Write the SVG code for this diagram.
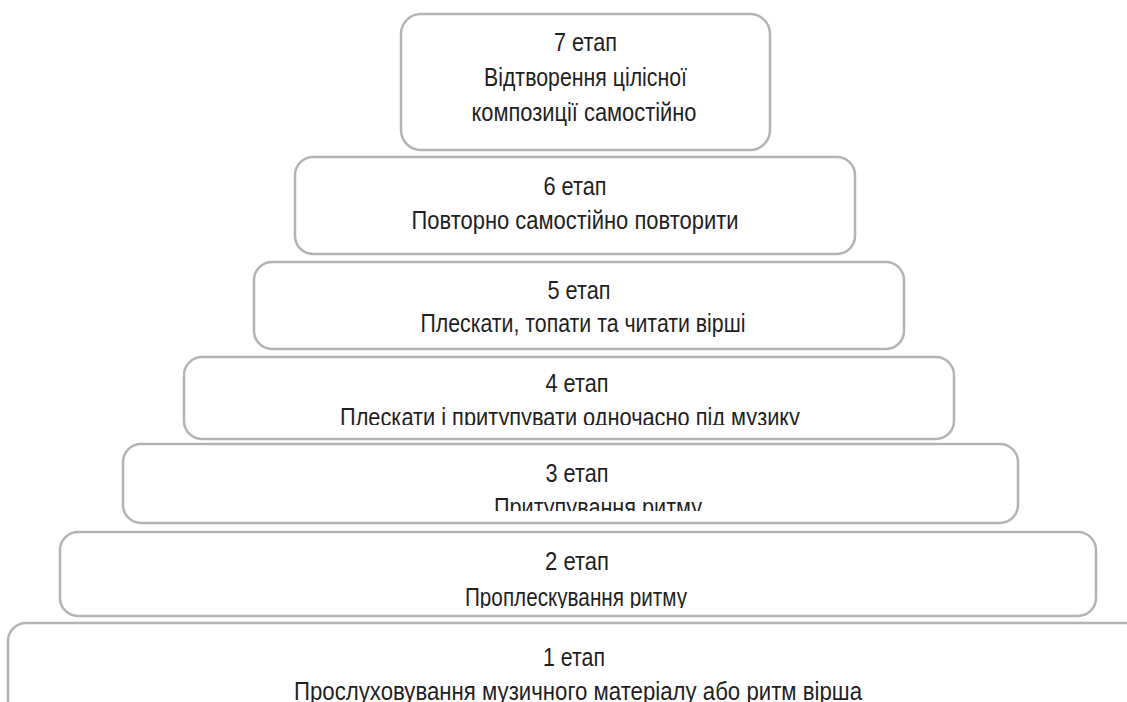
<svg xmlns="http://www.w3.org/2000/svg" width="1127" height="702" viewBox="0 0 1127 702">
  <style>
    .box { fill: #ffffff; stroke: #b4b4b4; stroke-width: 2.5; }
    .t { font-family: "Liberation Sans Narrow", "Liberation Sans", Arial, sans-serif; font-size: 25px; fill: #1f1f1f; text-anchor: middle; }
  </style>
  <defs>
    <clipPath id="c4"><rect x="184" y="357" width="770" height="68"/></clipPath>
    <clipPath id="c3"><rect x="123" y="444" width="895" height="67"/></clipPath>
    <clipPath id="c2"><rect x="60" y="532" width="1036" height="76"/></clipPath>
  </defs>
  <rect width="1127" height="702" fill="#ffffff"/>
  <g id="connectors"/>
  <g id="stage7">
    <rect class="box" x="401" y="14" width="369" height="136" rx="20"/>
    <text class="t" x="585.5" y="51" textLength="63" lengthAdjust="spacingAndGlyphs">7 етап</text>
    <text class="t" x="585.5" y="86" textLength="203" lengthAdjust="spacingAndGlyphs">Відтворення цілісної</text>
    <text class="t" x="584" y="121" textLength="225" lengthAdjust="spacingAndGlyphs">композиції самостійно</text>
  </g>
  <g id="stage6">
    <rect class="box" x="295" y="157" width="560" height="97" rx="18"/>
    <text class="t" x="575" y="195" textLength="63" lengthAdjust="spacingAndGlyphs">6 етап</text>
    <text class="t" x="575" y="229" textLength="327" lengthAdjust="spacingAndGlyphs">Повторно самостійно повторити</text>
  </g>
  <g id="stage5">
    <rect class="box" x="254" y="262" width="650" height="87" rx="18"/>
    <text class="t" x="579" y="299" textLength="63" lengthAdjust="spacingAndGlyphs">5 етап</text>
    <text class="t" x="583" y="332" textLength="325" lengthAdjust="spacingAndGlyphs">Плескати, топати та читати вірші</text>
  </g>
  <g id="stage4">
    <rect class="box" x="184" y="357" width="770" height="82" rx="18"/>
    <g clip-path="url(#c4)">
      <text class="t" x="577" y="392" textLength="63" lengthAdjust="spacingAndGlyphs">4 етап</text>
      <text class="t" x="570" y="426" textLength="460" lengthAdjust="spacingAndGlyphs">Плескати і притупувати одночасно під музику</text>
    </g>
  </g>
  <g id="stage3">
    <rect class="box" x="123" y="444" width="895" height="79" rx="18"/>
    <g clip-path="url(#c3)">
      <text class="t" x="577" y="482" textLength="63" lengthAdjust="spacingAndGlyphs">3 етап</text>
      <text class="t" x="598" y="516" textLength="208" lengthAdjust="spacingAndGlyphs">Притупування ритму</text>
    </g>
  </g>
  <g id="stage2">
    <rect class="box" x="60" y="532" width="1036" height="84" rx="18"/>
    <g clip-path="url(#c2)">
      <text class="t" x="577" y="570" textLength="64" lengthAdjust="spacingAndGlyphs">2 етап</text>
      <text class="t" x="576" y="606" textLength="222" lengthAdjust="spacingAndGlyphs">Проплескування ритму</text>
    </g>
  </g>
  <g id="stage1">
    <rect class="box" x="8" y="623" width="1150" height="110" rx="18"/>
    <text class="t" x="574" y="666" textLength="62" lengthAdjust="spacingAndGlyphs">1 етап</text>
    <text class="t" x="578" y="700" textLength="568" lengthAdjust="spacingAndGlyphs">Прослуховування музичного матеріалу або ритм вірша</text>
  </g>
</svg>
